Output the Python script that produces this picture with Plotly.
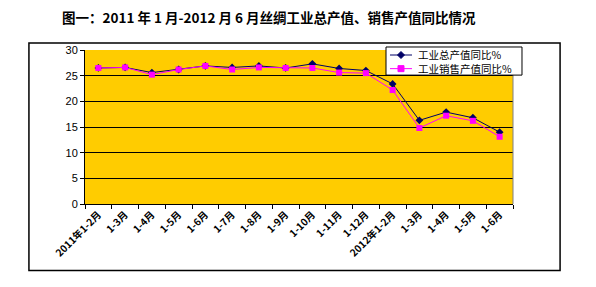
import plotly.graph_objects as go

categories = ["2011年1-2月", "1-3月", "1-4月", "1-5月", "1-6月", "1-7月", "1-8月", "1-9月",
              "1-10月", "1-11月", "1-12月", "2012年1-2月", "1-3月", "1-4月", "1-5月", "1-6月"]
gross_output = [26.5, 26.6, 25.6, 26.2, 26.9, 26.6, 26.9, 26.5, 27.3, 26.4, 26.0, 23.4, 16.3, 17.9, 16.8, 14.0]
sales_output = [26.5, 26.6, 25.2, 26.2, 26.9, 26.2, 26.6, 26.5, 26.5, 25.6, 25.5, 22.2, 14.8, 17.2, 16.2, 13.1]
series_names = ["工业总产值同比%", "工业销售产值同比%"]
series_colors = ["#000066", "#FF00FF"]
y_ticks = [0, 5, 10, 15, 20, 25, 30]

x = list(range(len(categories)))

fig = go.Figure()
fig.add_trace(go.Scatter(x=x, y=gross_output, name=series_names[0], mode="lines+markers",
                         line=dict(color=series_colors[0], width=1),
                         marker=dict(symbol="diamond", size=6, color=series_colors[0])))
fig.add_trace(go.Scatter(x=x, y=sales_output, name=series_names[1], mode="lines+markers",
                         line=dict(color=series_colors[1], width=1),
                         marker=dict(symbol="square", size=6, color=series_colors[1])))

fig.update_layout(
    width=596, height=287,
    margin=dict(l=85, r=83, t=50, b=83),
    paper_bgcolor="white",
    plot_bgcolor="#FFCC00",
    font=dict(family="Arial, 'Noto Sans CJK SC'", size=11, color="black"),
    showlegend=False,
    xaxis=dict(range=[-0.5, len(categories) - 0.5], tickmode="array", tickvals=x,
               ticktext=categories, tickangle=-45, ticks="", showgrid=False,
               zeroline=False, showline=True, linecolor="black", linewidth=1,
               tickfont=dict(size=10, family="'Noto Sans CJK SC', Arial", weight="bold"),
               minor=dict(tick0=-0.5, dtick=1, ticks="outside", ticklen=4,
                          tickcolor="black", showgrid=False)),
    yaxis=dict(range=[0, 30], tickmode="array", tickvals=y_ticks, ticks="outside",
               ticklen=4, tickcolor="black", showgrid=True, gridcolor="black",
               gridwidth=1, zeroline=False, showline=True, linecolor="black",
               linewidth=1, tickfont=dict(size=11, family="Arial")),
)

# plot-area right edge
fig.add_shape(type="line", xref="paper", yref="paper", x0=1, x1=1, y0=0, y1=1,
              line=dict(color="#808080", width=1))
# outer chart border
fig.add_shape(type="rect", xref="paper", yref="paper", x0=-0.131, x1=1.110,
              y0=-0.432, y1=1.046, line=dict(color="black", width=1.5))

# custom compact legend
fig.add_shape(type="rect", xref="paper", yref="paper", x0=0.7033, x1=1.0210,
              y0=0.837, y1=1.0195, fillcolor="white", line=dict(color="black", width=1))
row_y = [0.9675, 0.8789]
for i in range(2):
    fig.add_shape(type="line", xref="paper", yref="paper", x0=0.7126, x1=0.7640,
                  y0=row_y[i], y1=row_y[i], line=dict(color=series_colors[i], width=1))
    if i == 0:
        path = "M 0,3.5 L 3.5,0 L 0,-3.5 L -3.5,0 Z"
    else:
        path = "M -3,-3 L 3,-3 L 3,3 L -3,3 Z"
    fig.add_shape(type="path", xref="paper", yref="paper", xsizemode="pixel",
                  ysizemode="pixel", xanchor=0.7383, yanchor=row_y[i], path=path,
                  fillcolor=series_colors[i], line=dict(color=series_colors[i], width=1))
fig.add_annotation(text="<br>".join(series_names), xref="paper", yref="paper", x=0.7757,
                   y=(row_y[0] + row_y[1]) / 2, xanchor="left", yanchor="middle",
                   align="left", showarrow=False, borderpad=0,
                   font=dict(size=10.5, family="'Noto Sans CJK SC'", color="black"))

fig.add_annotation(text="<b>图一：2011 年 1 月-2012 月 6 月丝绸工业总产值、销售产值同比情况</b>",
                   xref="paper", yref="paper", x=0.43, y=1.215,
                   xanchor="center", yanchor="middle", showarrow=False,
                   font=dict(size=13.5, family="'Noto Sans CJK SC'", color="black"))

fig.write_html("out.html")
